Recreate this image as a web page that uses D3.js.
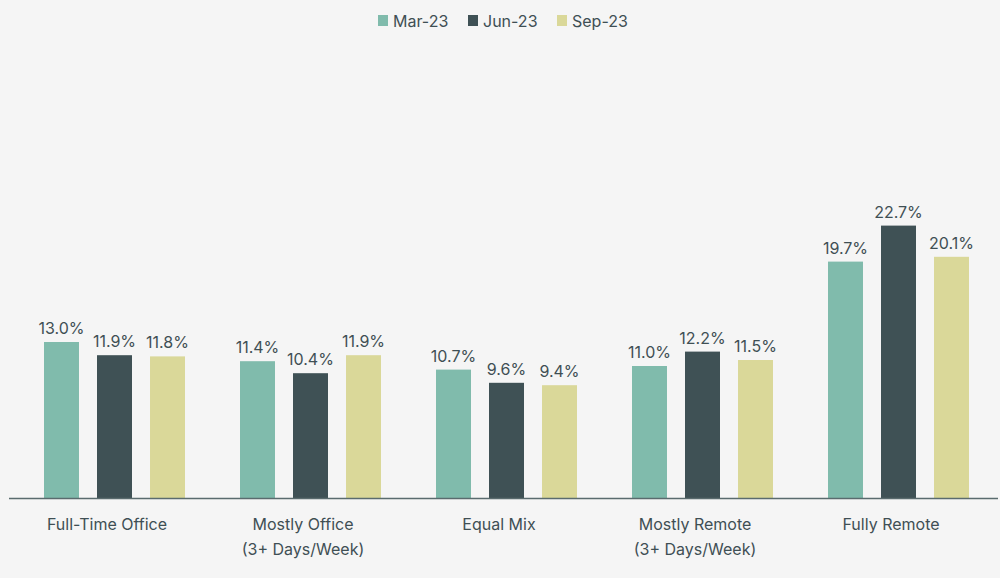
<!DOCTYPE html>
<html><head><meta charset="utf-8">
<script src="https://cdn.jsdelivr.net/npm/d3@7"></script>
<style>body{margin:0;background:#f5f5f5;font-family:Inter,"Noto Sans",sans-serif;}</style>
</head><body><svg id="c" width="1000" height="578"></svg>
<script>
const categories = [["Full-Time Office"],["Mostly Office","(3+ Days/Week)"],["Equal Mix"],["Mostly Remote","(3+ Days/Week)"],["Fully Remote"]];
const seriesNames = ["Mar-23","Jun-23","Sep-23"];
const mar23 = [13.0,11.4,10.7,11.0,19.7];
const jun23 = [11.9,10.4,9.6,12.2,22.7];
const sep23 = [11.8,11.9,9.4,11.5,20.1];
const colors = ["#80bbac","#3f5155","#dad899"];
const series = [mar23,jun23,sep23];
const textColor = "#3f4f54";

const svg = d3.select("#c");
svg.append("rect").attr("width",1000).attr("height",578).attr("fill","#f5f5f5");
const base = 498;
const x0 = d3.scaleBand().domain(d3.range(categories.length)).range([9,989]);
const x1 = d3.scaleBand().domain(d3.range(3)).range([35,176]).paddingInner(0.34);
const y = d3.scaleLinear().domain([0,25]).range([base,198]);

const g = svg.selectAll("g.grp").data(categories).join("g")
  .attr("transform",(d,i)=>`translate(${x0(i)},0)`);
series.forEach((vals,s)=>{
  g.append("rect").attr("x",x1(s)).attr("width",x1.bandwidth())
    .attr("y",(d,i)=>y(vals[i])).attr("height",(d,i)=>base-y(vals[i]))
    .attr("fill",colors[s]);
  g.append("text").attr("x",x1(s)+x1.bandwidth()/2).attr("y",(d,i)=>y(vals[i])-8)
    .attr("text-anchor","middle").attr("font-size",16).attr("fill",textColor)
    .text((d,i)=>vals[i].toFixed(1)+"%");
});
g.each(function(d){
  const t = d3.select(this).append("text").attr("text-anchor","middle").attr("font-size",16).attr("fill",textColor);
  d.forEach((line,k)=>t.append("tspan").attr("x",x0.bandwidth()/2).attr("y",530+k*25).text(line));
});
svg.append("line").attr("x1",9).attr("x2",998).attr("y1",base+0.5).attr("y2",base+0.5)
  .attr("stroke","#5a6b6e").attr("stroke-width",1.5);

const leg = svg.append("g");
const lx = [378,468,557];
seriesNames.forEach((n,i)=>{
  leg.append("rect").attr("x",lx[i]).attr("y",15).attr("width",10).attr("height",11).attr("fill",colors[i]);
  leg.append("text").attr("x",lx[i]+15).attr("y",27).attr("font-size",16).attr("fill",textColor).text(n);
});
</script></body></html>
